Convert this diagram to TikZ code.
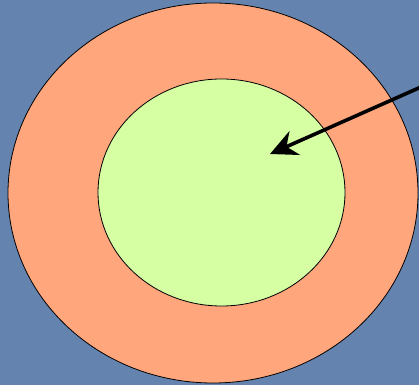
\documentclass[tikz,border=0pt]{standalone}
\usetikzlibrary{shapes.geometric,arrows.meta}
\definecolor{bgblue}{HTML}{6483AF}
\definecolor{salmon}{HTML}{FFA67C}
\definecolor{lightgreen}{HTML}{D6FFA4}
\tikzset{
  ring/.style={ellipse, draw=black, line width=0.8pt, inner sep=0pt},
  pointer/.style={-{Stealth[length=27pt,width=26pt,inset=9pt]}, line width=3.6pt, black}
}
\begin{document}
\begin{tikzpicture}[x=1pt,y=1pt]
\fill[bgblue] (0,0) rectangle (419,385);
\useasboundingbox (0,0) rectangle (419,385);
\node[ring, fill=salmon, minimum width=410pt, minimum height=380pt] (outer) at (213,192) {};
\node[ring, fill=lightgreen, minimum width=247pt, minimum height=227pt] (inner) at (221.5,192.5) {};
\coordinate (start) at (421,298);
\coordinate (target) at (270,231);
\draw[pointer] (start) -- (target);
\end{tikzpicture}
\end{document}
